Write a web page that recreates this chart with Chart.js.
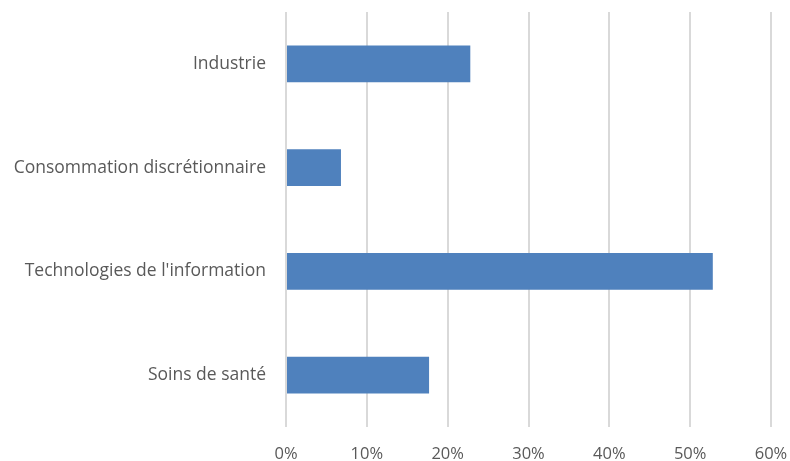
<!DOCTYPE html>
<html>
<head>
<meta charset="utf-8">
<script src="https://cdn.jsdelivr.net/npm/chart.js@4"></script>
<style>
  html, body { margin: 0; padding: 0; background: #fff; }
  #wrap { width: 790px; height: 461px; }
</style>
</head>
<body>
<div id="wrap"><canvas id="sectorChart"></canvas></div>
<script>
// categories (top to bottom) and their weights in %
const sectors = ['Industrie', 'Consommation discrétionnaire', "Technologies de l'information", 'Soins de santé'];
const weights = [22.8, 6.8, 52.8, 17.7];
const xTicks = [0, 10, 20, 30, 40, 50, 60];

const ctx = document.getElementById('sectorChart');

new Chart(ctx, {
  type: 'bar',
  data: {
    labels: sectors,
    datasets: [{
      data: weights,
      backgroundColor: '#4f81bd',
      borderWidth: 0,
      barPercentage: 0.71,
      categoryPercentage: 0.5
    }]
  },
  options: {
    indexAxis: 'y',
    responsive: true,
    maintainAspectRatio: false,
    animation: false,
    layout: { padding: { top: 12, right: 0, bottom: 0, left: 0 } },
    plugins: {
      legend: { display: false },
      tooltip: { enabled: false }
    },
    scales: {
      x: {
        min: 0,
        max: 60,
        afterBuildTicks: (scale) => { scale.ticks = xTicks.map(v => ({ value: v })); },
        afterFit: (scale) => {
          scale.height = 34;
          scale.paddingLeft = 0;
          scale.paddingRight = 19;
        },
        grid: { color: '#d9d9d9', lineWidth: 2, drawTicks: false },
        border: { display: false },
        ticks: {
          padding: 17,
          color: '#595959',
          font: { family: 'Open Sans', size: 16.5 },
          callback: (v) => v + '%'
        }
      },
      y: {
        afterFit: (scale) => {
          scale.width = 286;
          scale.paddingTop = 0;
          scale.paddingBottom = 0;
        },
        grid: { display: false },
        border: { display: false },
        ticks: {
          padding: 12,
          color: '#595959',
          font: { family: 'Open Sans', size: 17.5 }
        }
      }
    }
  }
});
</script>
</body>
</html>
